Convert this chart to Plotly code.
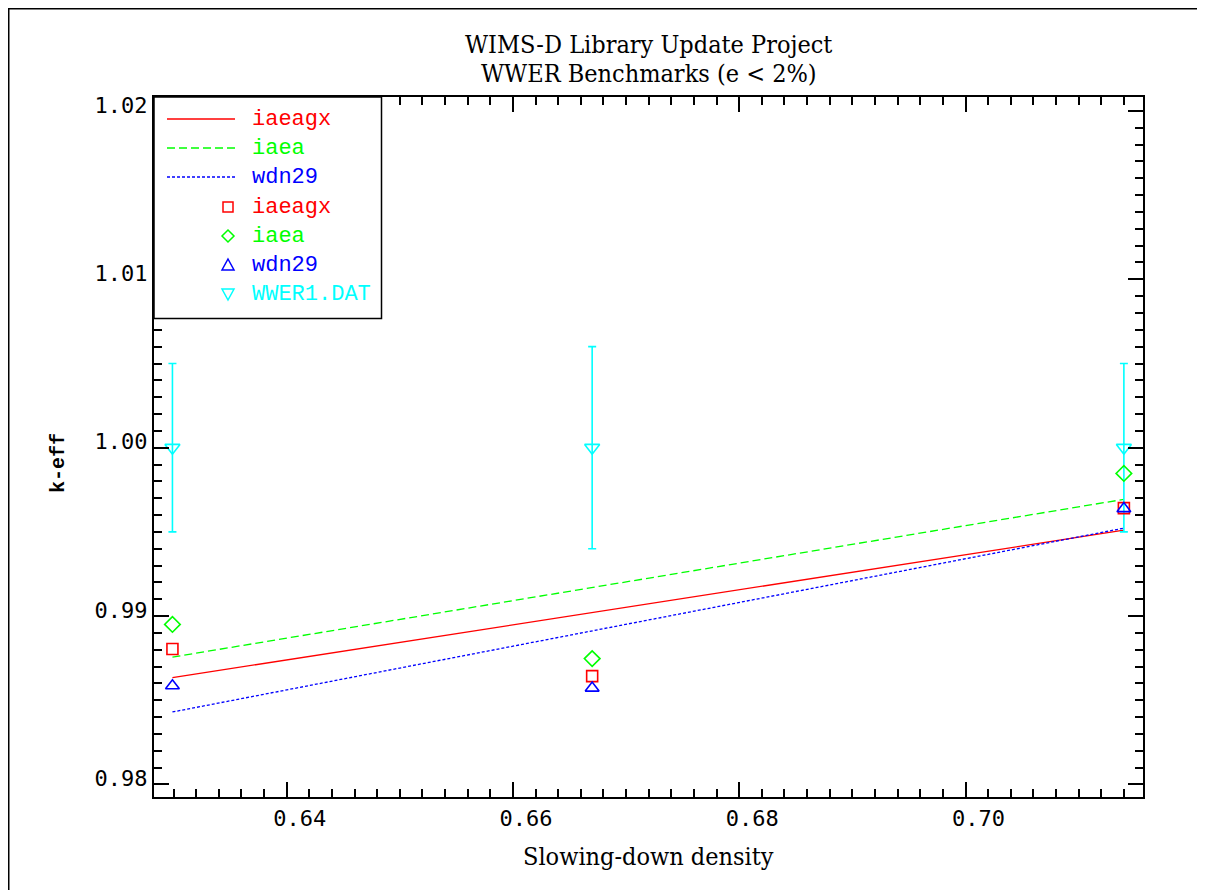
import plotly.graph_objects as go

# ---------------- data ----------------
x_bench = [0.6299, 0.6670, 0.7140]
k_iaeagx = [0.98804, 0.98643, 0.99641]
k_iaea = [0.98950, 0.98747, 0.99847]
k_wdn29 = [0.98586, 0.98572, 0.99638]
k_exp = [1.000, 1.000, 1.000]
k_exp_err = [0.005, 0.006, 0.005]

x_fit = [0.6299, 0.7140]
fit_iaeagx = [0.98634, 0.99510]
fit_iaea = [0.98756, 0.99693]
fit_wdn29 = [0.98430, 0.99522]

legend_labels = ["iaeagx", "iaea", "wdn29", "iaeagx", "iaea", "wdn29", "WWER1.DAT"]

RED, GREEN, BLUE, CYAN = "#FF0000", "#00FF00", "#0000FF", "#00FFFF"

# ---------------- layout geometry (screen pixels) ----------------
OFF = 8                      # page body margin
SW, SH = 1205, 890           # screen size
W, H = SW - OFF, SH - OFF    # figure size
L, R, T, B = 154, 1143, 97, 797   # plot area in screen pixels


def px(x):
    return (x - L) / (R - L)


def py(y):
    return (B - y) / (B - T)


MONO = "Liberation Mono"
SANSMONO = "DejaVu Sans Mono"
SERIF = "DejaVu Serif Condensed"

fig = go.Figure()

# fitted lines
fig.add_trace(go.Scatter(x=x_fit, y=fit_iaeagx, mode="lines",
                         line=dict(color=RED, width=1.3), showlegend=False))
fig.add_trace(go.Scatter(x=x_fit, y=fit_iaea, mode="lines",
                         line=dict(color=GREEN, width=1.3, dash="8px,4px"), showlegend=False))
fig.add_trace(go.Scatter(x=x_fit, y=fit_wdn29, mode="lines",
                         line=dict(color=BLUE, width=1.3, dash="3px,2px"), showlegend=False))

# experimental values with error bars
fig.add_trace(go.Scatter(x=x_bench, y=k_exp, mode="markers",
                         marker=dict(symbol="triangle-down-open", size=13, color=CYAN,
                                     line=dict(width=1.6, color=CYAN)),
                         error_y=dict(type="data", array=k_exp_err, visible=True,
                                      color=CYAN, thickness=1.6, width=4),
                         showlegend=False))

# calculated points
fig.add_trace(go.Scatter(x=x_bench, y=k_iaeagx, mode="markers",
                         marker=dict(symbol="square-open", size=11, color=RED,
                                     line=dict(width=1.6, color=RED)), showlegend=False))
fig.add_trace(go.Scatter(x=x_bench, y=k_iaea, mode="markers",
                         marker=dict(symbol="diamond-open", size=12, color=GREEN,
                                     line=dict(width=1.6, color=GREEN)), showlegend=False))
fig.add_trace(go.Scatter(x=x_bench, y=k_wdn29, mode="markers",
                         marker=dict(symbol="triangle-up-open", size=12, color=BLUE,
                                     line=dict(width=1.6, color=BLUE)), showlegend=False))

shapes = []
annotations = []

# outer border of the page
shapes.append(dict(type="line", xref="paper", yref="paper",
                   x0=px(OFF + 0.75), x1=px(OFF + 0.75), y0=py(OFF), y1=py(SH + 5),
                   line=dict(color="black", width=1.5), layer="above"))
shapes.append(dict(type="line", xref="paper", yref="paper",
                   x0=px(OFF), x1=px(SW + 5), y0=py(OFF + 0.75), y1=py(OFF + 0.75),
                   line=dict(color="black", width=1.5), layer="above"))

# legend box
shapes.append(dict(type="rect", xref="paper", yref="paper",
                   x0=px(L), x1=px(381.5), y0=py(318.5), y1=py(T),
                   line=dict(color="black", width=1.5), fillcolor="white", layer="above"))

rows = [119, 148, 177, 207, 236, 265, 294]
colors = [RED, GREEN, BLUE, RED, GREEN, BLUE, CYAN]
dashes = ["solid", "8px,4px", "3px,2px"]
for i in range(3):
    shapes.append(dict(type="line", xref="paper", yref="paper",
                       x0=px(167), x1=px(235), y0=py(rows[i]), y1=py(rows[i]),
                       line=dict(color=colors[i], width=1.3, dash=dashes[i]), layer="above"))

mx = 228


def path_poly(pts):
    return "M " + " L ".join(f"{px(a):.5f},{py(b):.5f}" for a, b in pts) + " Z"


# square
shapes.append(dict(type="rect", xref="paper", yref="paper",
                   x0=px(mx - 5), x1=px(mx + 5), y0=py(rows[3] + 5), y1=py(rows[3] - 5),
                   line=dict(color=RED, width=1.5), layer="above"))
# diamond
r = rows[4]
shapes.append(dict(type="path", xref="paper", yref="paper",
                   path=path_poly([(mx, r - 6), (mx + 6, r), (mx, r + 6), (mx - 6, r)]),
                   line=dict(color=GREEN, width=1.5), layer="above"))
# triangle up
r = rows[5]
shapes.append(dict(type="path", xref="paper", yref="paper",
                   path=path_poly([(mx, r - 6), (mx + 6, r + 5), (mx - 6, r + 5)]),
                   line=dict(color=BLUE, width=1.5), layer="above"))
# triangle down
r = rows[6]
shapes.append(dict(type="path", xref="paper", yref="paper",
                   path=path_poly([(mx - 6, r - 5), (mx + 6, r - 5), (mx, r + 6)]),
                   line=dict(color=CYAN, width=1.5), layer="above"))

for lab, c, r in zip(legend_labels, colors, rows):
    annotations.append(dict(text=lab, xref="paper", yref="paper", x=px(250), y=py(r),
                            xanchor="left", yanchor="middle", showarrow=False,
                            font=dict(family=MONO, size=22, color=c)))

# titles
annotations.append(dict(text="WIMS-D Library Update Project", xref="paper", yref="paper",
                        x=px(648.5), y=py(44), xanchor="center", yanchor="middle",
                        showarrow=False, font=dict(family=SERIF, size=25, color="black")))
annotations.append(dict(text="WWER Benchmarks (e &lt; 2%)", xref="paper", yref="paper",
                        x=px(648.5), y=py(73), xanchor="center", yanchor="middle",
                        showarrow=False, font=dict(family=SERIF, size=25, color="black")))
annotations.append(dict(text="Slowing-down density", xref="paper", yref="paper",
                        x=px(648.5), y=py(857), xanchor="center", yanchor="middle",
                        showarrow=False, font=dict(family=SERIF, size=25, color="black")))
annotations.append(dict(text="<b>k-eff</b>", xref="paper", yref="paper",
                        x=px(58), y=py(463), xanchor="center", yanchor="middle",
                        textangle=-90, showarrow=False,
                        font=dict(family=MONO, size=20, color="black")))

axis_common = dict(showgrid=False, zeroline=False, showline=True, linecolor="black",
                   linewidth=2, mirror="allticks", ticks="inside", ticklen=15,
                   tickwidth=1.5, tickcolor="black",
                   tickfont=dict(family=SANSMONO, size=22, color="black"))

fig.update_layout(
    width=W, height=H,
    margin=dict(l=L - OFF, r=SW - R, t=T - OFF, b=SH - B, autoexpand=False),
    paper_bgcolor="white", plot_bgcolor="white",
    showlegend=False,
    xaxis=dict(range=[0.62827, 0.71569], tick0=0.64, dtick=0.02, tickformat=".2f",
               minor=dict(dtick=0.002, tick0=0.64, ticklen=8, tickwidth=1.5, ticks="inside",
                          tickcolor="black", showgrid=False),
               ticklabelshift=13, ticklabelstandoff=1, **axis_common),
    yaxis=dict(range=[0.97925, 1.02083], tick0=0.98, dtick=0.01, tickformat=".2f",
               minor=dict(dtick=0.001, tick0=0.98, ticklen=8, tickwidth=1.5, ticks="inside",
                          tickcolor="black", showgrid=False),
               ticklabelshift=-6, ticklabelstandoff=0, **axis_common),
    shapes=shapes, annotations=annotations,
)

fig.write_html("out.html")
